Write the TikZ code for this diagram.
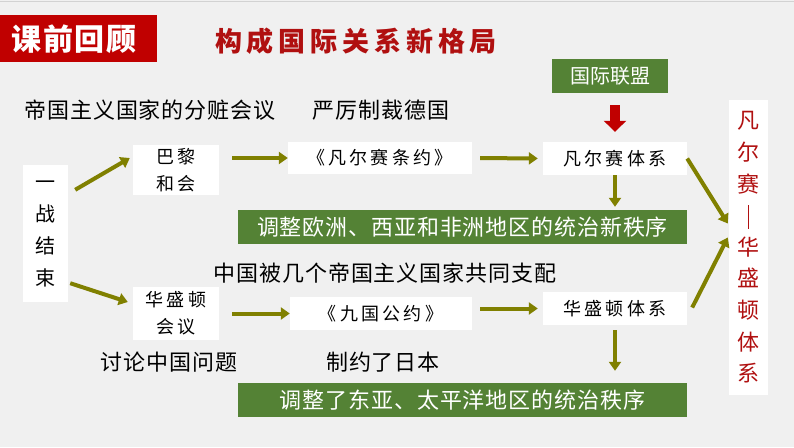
\documentclass[tikz,border=0pt]{standalone}
\usepackage{fontspec}
\setmainfont{Noto Sans CJK SC}
\newfontfamily\cjkt[LetterSpace=4]{Noto Sans CJK SC}
\newfontfamily\cjkbox[LetterSpace=18]{Noto Sans CJK SC}
\newfontfamily\cjktitle[LetterSpace=18]{Noto Sans CJK SC}
\newfontfamily\cjkban[LetterSpace=6]{Noto Sans CJK SC}
\usetikzlibrary{arrows.meta,calc}
\definecolor{olivearr}{RGB}{128,128,0}
\definecolor{boxgreen}{RGB}{84,130,53}
\definecolor{banred}{RGB}{192,0,0}
\definecolor{titred}{RGB}{176,16,16}
\definecolor{bgcol}{RGB}{240,240,240}
\tikzset{
  wbox/.style={fill=white, inner sep=0pt, text=black, align=center},
  gbox/.style={fill=boxgreen, inner sep=0pt, text=white, font=\cjkt\fontsize{22}{26}\selectfont},
  ptext/.style={inner sep=0pt, text=black, font=\cjkt\fontsize{22}{26}\selectfont},
  boxfont/.style={font=\cjkbox\fontsize{18}{27}\selectfont},
  arr/.style={draw=olivearr, line width=4pt, -{Triangle[width=12pt,length=9pt]}},
  redarr/.style={draw=banred, line width=10pt, -{Triangle[width=22pt,length=11pt]}}
}
\begin{document}
\begin{tikzpicture}[x=1pt,y=-1pt]
% background
\fill[bgcol] (0,0) rectangle (794,447);
\useasboundingbox (0,0) rectangle (794,447);
\draw[gray!35, line width=1pt] (0,1) -- (794,1);
% banner and title
\node[fill=banred, minimum width=157pt, minimum height=47pt, inner sep=0pt, anchor=north west] (banner) at (0,15) {};
\node[text=white, font=\cjkban\bfseries\fontsize{30}{34}\selectfont] (bantext) at (74,39) {课前回顾};
\node[text=titred, font=\cjktitle\bfseries\fontsize{27}{30}\selectfont] (title) at (356,41) {构成国际关系新格局};
% League of Nations
\node[fill=boxgreen, text=white, minimum width=116pt, minimum height=34pt, inner sep=0pt, font=\fontsize{20}{24}\selectfont] (league) at (610,76) {国际联盟};
% plain texts
\node[ptext] (t1) at (150,110) {帝国主义国家的分赃会议};
\node[ptext] (t2) at (381,110) {严厉制裁德国};
\node[ptext] (t3) at (385,273) {中国被几个帝国主义国家共同支配};
\node[ptext] (t4) at (169,362) {讨论中国问题};
\node[ptext] (t5) at (383,362) {制约了日本};
% white boxes
\node[wbox, minimum width=45pt, minimum height=137pt, font=\fontsize{20}{32}\selectfont] (wwi) at (45.5,233.5) {一\\战\\结\\束};
\node[wbox, boxfont, minimum width=86pt, minimum height=50pt] (paris) at (176,170) {巴黎\\和会};
\node[wbox, boxfont, minimum width=184pt, minimum height=32pt] (vtreaty) at (380,158) {《凡尔赛条约》};
\node[wbox, boxfont, minimum width=144pt, minimum height=33pt] (vsys) at (615,158.5) {凡尔赛体系};
\node[wbox, boxfont, minimum width=86pt, minimum height=53pt] (wash) at (176,313.5) {华盛顿\\会议};
\node[wbox, boxfont, minimum width=182pt, minimum height=33pt] (nine) at (381,313.5) {《九国公约》};
\node[wbox, boxfont, minimum width=144pt, minimum height=33pt] (wsys) at (615,308.5) {华盛顿体系};
% green boxes
\node[gbox, minimum width=449pt, minimum height=34pt] (g1) at (462.5,227) {调整欧洲、西亚和非洲地区的统治新秩序};
\node[gbox, minimum width=449pt, minimum height=34pt] (g2) at (462.5,400) {调整了东亚、太平洋地区的统治秩序};
% right vertical box
\node[wbox, text=titred, minimum width=39pt, minimum height=295pt, font=\fontsize{22}{31.6}\selectfont] (vw) at (748.5,247.5) {凡\\尔\\赛\\\rule[-5pt]{1.6pt}{24pt}\\华\\盛\\顿\\体\\系};
% arrows
\draw[redarr, shorten <=12pt, shorten >=10pt] (vsys.north |- league.south) -- (vsys.north);
\draw[arr] ($(wwi.north east)+(7,25)$) -- ($(paris.west)+(-3,-12)$);
\draw[arr] ($(paris.east)+(13,-12)$) -- (vtreaty.west);
\draw[arr, shorten <=8pt, shorten >=5pt] (vtreaty.east) -- (vsys.west);
\draw[arr, shorten >=3pt] (vsys.south) -- (vsys.south |- g1.north);
\draw[arr] ($(wwi.south east)+(2,-19)$) -- ($(wash.west)+(-5,-11.5)$);
\draw[arr] ($(wash.east)+(13,0)$) -- (nine.west);
\draw[arr, shorten >=5pt] ($(nine.east)+(8,-5)$) -- (wsys.west);
\draw[arr, shorten <=5pt, shorten >=12pt] (wsys.south) -- (wsys.south |- g2.north);
\draw[arr] (vsys.east) -- ($(vw.west)+(-1,-24)$);
\draw[arr] ($(wsys.east)+(5,-1)$) -- ($(vw.west)+(-1,-10)$);
\end{tikzpicture}
\end{document}
